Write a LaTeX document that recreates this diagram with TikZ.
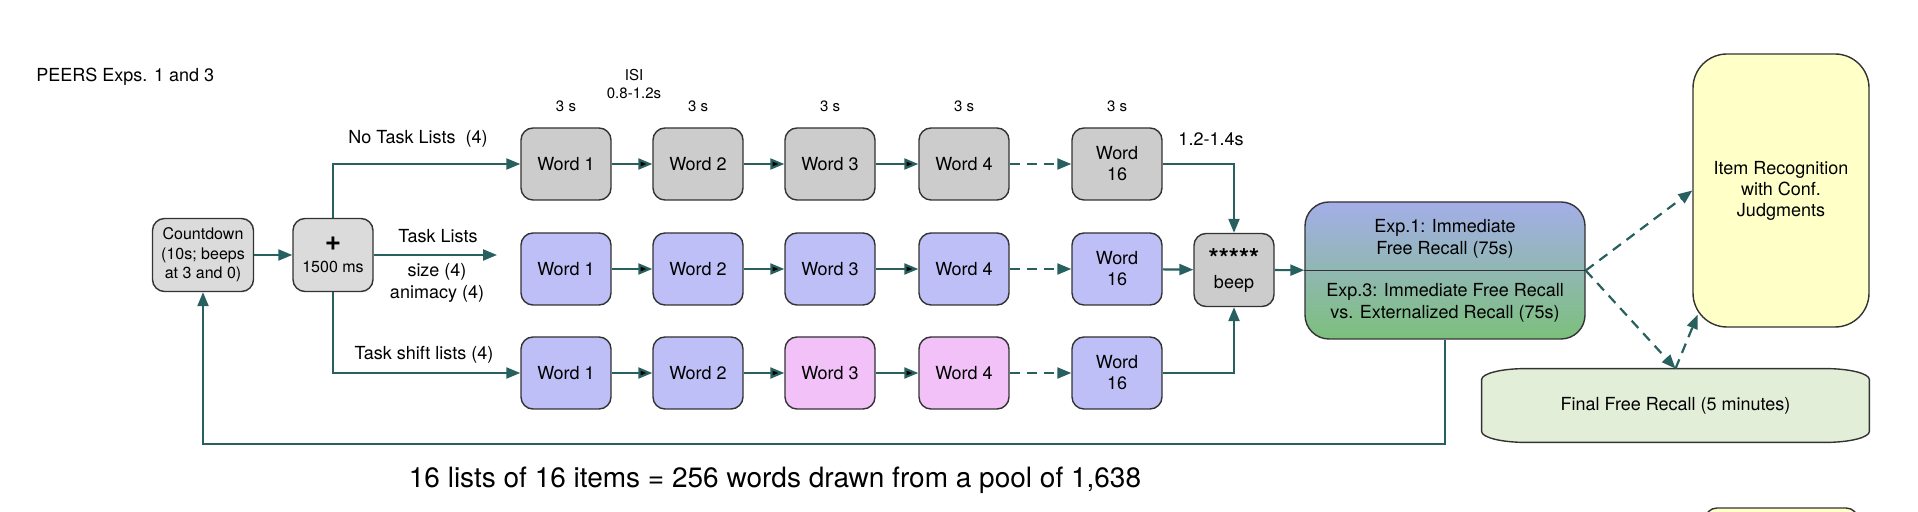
\documentclass[tikz,border=0pt]{standalone}
\usepackage{fontspec}
\setmainfont{TeX Gyre Heros}
\usetikzlibrary{arrows.meta,positioning,backgrounds}

\definecolor{flowteal}{RGB}{40,96,96}
\definecolor{boxline}{RGB}{51,51,51}
\definecolor{countgray}{RGB}{219,219,219}
\definecolor{wordgray}{RGB}{204,204,204}
\definecolor{taskblue}{RGB}{191,191,248}
\definecolor{shiftpink}{RGB}{242,193,247}
\definecolor{expblue}{RGB}{164,174,232}
\definecolor{expgreen}{RGB}{124,192,124}
\definecolor{itemyellow}{RGB}{255,255,200}
\definecolor{finalgreen}{RGB}{227,238,216}

\begin{document}
\begin{tikzpicture}
	[x=0.5pt,y=-0.5pt,
	box/.style={draw=boxline,line width=0.7pt,rounded corners=6pt,align=center,font=\fontsize{9}{10.5}\selectfont,minimum width=45pt,minimum height=36pt,inner sep=1pt},
	grayword/.style={box,fill=wordgray},
	taskword/.style={box,fill=taskblue},
	shiftword/.style={box,fill=shiftpink},
	flow/.style={draw=flowteal,line width=1.1pt,-{Triangle[length=7pt,width=5.5pt]}},
	dashflow/.style={flow,dash pattern=on 5pt off 3.5pt},
	note/.style={font=\fontsize{9}{10.8}\selectfont,inner sep=0pt},
	small note/.style={font=\fontsize{7.5}{9}\selectfont,inner sep=0pt},
	time/.style={label={[small note,label distance=7.5pt]above:3 s}}]
	\useasboundingbox (0,0) rectangle (1918,512);
	\clip (0,0) rectangle (1918,512);
	
	\node [note,anchor=west] (title) at (36,77) {PEERS Exps. 1 and 3};
	
	\node [box,fill=countgray,font=\fontsize{8}{9.75}\selectfont,minimum width=50.5pt,minimum height=36.5pt] (count) at (203,255) {Countdown\\(10s; beeps\\at 3 and 0)};
	\node [box,fill=countgray,font=\fontsize{8}{9.75}\selectfont,minimum width=40pt,minimum height=36.5pt] (fix) at (333,255) {{\fontsize{14}{14}\selectfont\bfseries +}\\[1pt]1500 ms};
	
	% no task lists
	\node [grayword,time] (n1) at (566,164) {Word 1};
	\node [grayword,time] (n2) at (698,164) {Word 2};
	\node [grayword,time] (n3) at (830,164) {Word 3};
	\node [grayword,time] (n4) at (964,164) {Word 4};
	\node [grayword,time] (n5) at (1117,164) {Word\\16};
	
	% task lists
	\node [taskword] (t1) at (566,269) {Word 1};
	\node [taskword] (t2) at (698,269) {Word 2};
	\node [taskword] (t3) at (830,269) {Word 3};
	\node [taskword] (t4) at (964,269) {Word 4};
	\node [taskword] (t5) at (1117,269) {Word\\16};
	
	% task shift lists
	\node [taskword] (s1) at (566,373) {Word 1};
	\node [taskword] (s2) at (698,373) {Word 2};
	\node [shiftword] (s3) at (830,373) {Word 3};
	\node [shiftword] (s4) at (964,373) {Word 4};
	\node [taskword] (s5) at (1117,373) {Word\\16};
	
	\node [box,fill=wordgray,minimum width=40pt,minimum height=36.5pt] (beep) at (1234,270) {{\fontsize{13}{13}\selectfont\bfseries *****}\\beep};
	
	\node [draw=boxline,line width=0.7pt,rounded corners=12pt,top color=expblue,bottom color=expgreen,minimum width=140pt,minimum height=68.5pt] (exp) at (1445,270.5) {};
	\draw [boxline,line width=0.7pt] (exp.west) -- (exp.east);
	\node [note,align=center] (exp1) at (1445,239) {Exp.1: Immediate\\Free Recall (75s)};
	\node [note,align=center] (exp3) at (1445,303) {Exp.3: Immediate Free Recall\\vs. Externalized Recall (75s)};
	
	\node [box,fill=itemyellow,rounded corners=17pt,minimum width=88pt,minimum height=136.5pt] (item) at (1781,190.5) {Item Recognition\\with Conf.\\Judgments};
	\node [note,minimum width=193.5pt,minimum height=36.5pt] (final) at (1675.5,405.5) {Final Free Recall (5 minutes)};
	\node [box,fill=itemyellow,minimum width=76.5pt,minimum height=30pt] (nextbox) at (1781.5,538) {};
	
	\begin{scope}[on background layer]
	\fill [white] (0,0) rectangle (1918,512);
	\draw [draw=boxline,line width=0.7pt,fill=finalgreen]
	([xshift=22pt]final.north west) -- ([xshift=-22pt]final.north east)
	arc [start angle=90,end angle=0,x radius=22pt,y radius=5.5pt]
	-- ([yshift=5.5pt]final.south east)
	arc [start angle=0,end angle=-90,x radius=22pt,y radius=5.5pt]
	-- ([xshift=22pt]final.south west)
	arc [start angle=270,end angle=180,x radius=22pt,y radius=5.5pt]
	-- ([yshift=-5.5pt]final.north west)
	arc [start angle=180,end angle=90,x radius=22pt,y radius=5.5pt]
	-- cycle;
	\end{scope}
	
	\node [note] (nolab) at (418,139) {No Task Lists\ \ (4)};
	\node [note] (tasklab) at (438,236) {Task Lists};
	\node [note,align=center,font=\fontsize{9}{11}\selectfont] (catlab) at (437,283) {size (4)\\animacy (4)};
	\node [note] (shiftlab) at (424,355) {Task shift lists (4)};
	\node [small note,align=center] (isi) at (634,84) {ISI\\0.8-1.2s};
	\node [note] (pause) at (1211,139) {1.2-1.4s};
	\node [note,font=\fontsize{14}{16}\selectfont] (summary) at (775,480) {16 lists of 16 items = 256 words drawn from a pool of 1,638};
	
	\coordinate (tl) at (497,255);
	\coordinate (back) at (1445,444);
	
	\draw [flow] (count) -- (fix);
	\draw [flow] (fix.north) |- (n1.west);
	\draw [flow] (fix.east) -- (tl);
	\draw [flow] (fix.south) |- (s1.west);
	
	\path [flow]
	(n1) edge (n2)
	(n2) edge (n3)
	(n3) edge (n4)
	(n4) edge [dashflow] (n5)
	
	(t1) edge (t2)
	(t2) edge (t3)
	(t3) edge (t4)
	(t4) edge [dashflow] (t5)
	
	(s1) edge (s2)
	(s2) edge (s3)
	(s3) edge (s4)
	(s4) edge [dashflow] (s5)
	;
	
	\draw [flow] (n5.east) -| (beep.north);
	\draw [flow] (t5) -- (beep);
	\draw [flow] (s5.east) -| (beep.south);
	\draw [flow] (beep) -- (exp);
	\draw [flow] (exp.south) -- (back) -| (count.south);
	
	\draw [dashflow] (exp.east) -- (item.west);
	\draw [dashflow] (exp.east) -- (final.north);
	\draw [dashflow,shorten >=-7pt] (final.north) -- (item.south west);
	
\end{tikzpicture}
\end{document}
